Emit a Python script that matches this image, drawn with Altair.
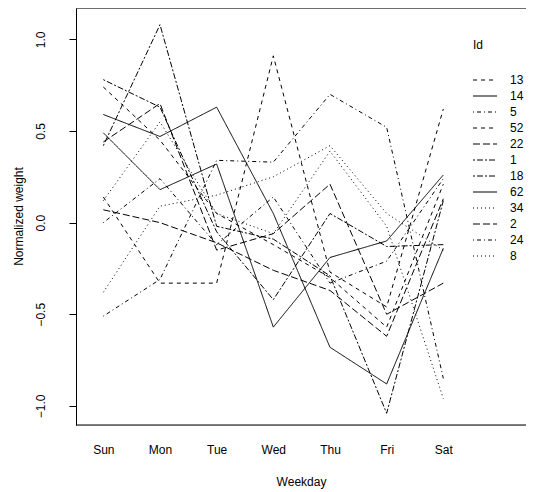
import altair as alt
import pandas as pd

days = ["Sun", "Mon", "Tue", "Wed", "Thu", "Fri", "Sat"]
ids = ["13", "14", "5", "52", "22", "1", "18", "62", "34", "2", "24", "8"]

s13 = [0.14, -0.33, -0.33, 0.91, -0.27, -0.46, 0.62]
s14 = [0.49, 0.18, 0.32, -0.57, -0.19, -0.10, 0.26]
s5 = [0.00, 0.24, -0.12, 0.14, -0.33, -0.21, 0.24]
s52 = [0.74, 0.45, 0.05, -0.12, -0.30, -0.57, 0.21]
s22 = [0.07, 0.00, -0.11, -0.26, -0.37, -0.62, 0.13]
s1 = [0.42, 1.08, -0.02, -0.09, -0.29, -1.04, 0.12]
s18 = [0.78, 0.63, -0.05, -0.42, 0.05, -0.13, -0.12]
s62 = [0.59, 0.47, 0.63, 0.05, -0.68, -0.88, -0.14]
s34 = [-0.38, 0.09, 0.15, 0.25, 0.42, 0.05, -0.15]
s2 = [0.44, 0.65, -0.15, -0.06, 0.21, -0.50, -0.33]
s24 = [-0.51, -0.31, 0.34, 0.33, 0.70, 0.52, -0.85]
s8 = [0.12, 0.55, 0.05, -0.06, 0.39, -0.02, -0.96]

series = [s13, s14, s5, s52, s22, s1, s18, s62, s34, s2, s24, s8]

SOLID = [1, 0]
DASHED = [4, 4]
DOTTED = [1, 3]
DOTDASH = [1, 3, 4, 3]
LONGDASH = [7, 3]
TWODASH = [2, 2, 6, 2]
dashes = [DASHED, SOLID, DOTDASH, DASHED, LONGDASH, TWODASH,
          TWODASH, SOLID, DOTTED, LONGDASH, DOTDASH, DOTTED]

rows = []
for sid, vals in zip(ids, series):
    for j, v in enumerate(vals):
        rows.append({"Id": sid, "day": j, "value": v})
df = pd.DataFrame(rows)

legend_df = pd.DataFrame({"Id": ids, "order": list(range(len(ids)))})
title_df = pd.DataFrame({"t": ["Id"]})
box_df = pd.DataFrame({"k": [0]})

W, H = 450, 417
FONT = "Liberation Sans"

x_scale = alt.Scale(domain=[-0.482, 7.459], nice=False, zero=False)
y_scale = alt.Scale(domain=[-1.104, 1.171], nice=False, zero=False)
dash_scale = alt.Scale(domain=ids, range=dashes)
legend_y = alt.Scale(domain=[-4.5, 21.5625], reverse=True, nice=False, zero=False)

label_expr = "[" + ",".join("'%s'" % d for d in days) + "][datum.value]"

lines = alt.Chart(df).mark_line(color="black", strokeWidth=1).encode(
    x=alt.X("day:Q", scale=x_scale,
            axis=alt.Axis(values=list(range(len(days))), labelExpr=label_expr,
                          ticks=False, tickSize=0, domain=False, grid=False,
                          labelPadding=19, labelFontSize=12, labelFont=FONT,
                          labelColor="black", title="Weekday", titleFont=FONT,
                          titleFontSize=12, titleFontWeight="normal",
                          titleColor="black", titleY=56, titleBaseline="middle")),
    y=alt.Y("value:Q", scale=y_scale,
            axis=alt.Axis(values=[-1.0, -0.5, 0.0, 0.5, 1.0], format=".1f",
                          grid=False, tickSize=7, tickColor="black",
                          domainColor="black", labelAngle=270,
                          labelAlign="center", labelBaseline="bottom",
                          labelPadding=22, labelFontSize=12, labelFont=FONT,
                          labelColor="black", title="Normalized weight",
                          titleFont=FONT, titleFontSize=12,
                          titleFontWeight="normal", titleColor="black",
                          titleAngle=270, titleX=-58, titleY=208,
                          titleAlign="center", titleBaseline="middle")),
    strokeDash=alt.StrokeDash("Id:N", scale=dash_scale, legend=None),
    detail="Id:N",
)

top_line = alt.Chart(box_df).mark_rule(color="black", strokeWidth=1).encode(
    x=alt.value(0), x2=alt.value(W), y=alt.value(0))
bottom_line = alt.Chart(box_df).mark_rule(color="black", strokeWidth=1).encode(
    x=alt.value(0), x2=alt.value(W), y=alt.value(H))

leg_lines = alt.Chart(legend_df).mark_rule(color="black", strokeWidth=1).encode(
    x=alt.value(397), x2=alt.value(421),
    y=alt.Y("order:Q", scale=legend_y, axis=None),
    strokeDash=alt.StrokeDash("Id:N", scale=dash_scale, legend=None),
)
leg_text = alt.Chart(legend_df).mark_text(
    align="left", baseline="middle", fontSize=12, font=FONT, color="black"
).encode(
    x=alt.value(434),
    y=alt.Y("order:Q", scale=legend_y, axis=None),
    text="Id:N",
)
leg_title = alt.Chart(title_df).mark_text(
    align="left", baseline="middle", fontSize=12, font=FONT, color="black"
).encode(x=alt.value(397), y=alt.value(37), text="t:N")

chart = alt.layer(
    lines, top_line, bottom_line, leg_lines, leg_text, leg_title
).resolve_scale(y="independent").properties(
    width=W, height=H,
    padding={"left": 68, "top": 0, "right": 0, "bottom": 70},
    autosize=alt.AutoSizeParams(type="none"),
).configure_view(stroke=None).configure(font=FONT, background="white")

chart.save("out.html", embed_options={"renderer": "svg", "actions": False})
